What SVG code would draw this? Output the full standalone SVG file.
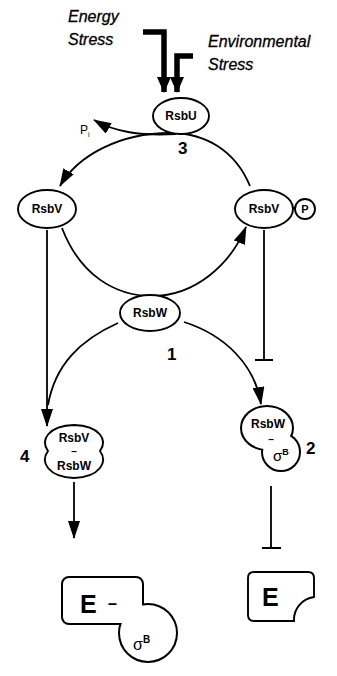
<svg xmlns="http://www.w3.org/2000/svg" width="337" height="676" viewBox="0 0 337 676">
  <style>
    .lbl { font-family: "Liberation Sans", Arial, sans-serif; font-weight: bold; fill: #000; }
    .it { font-family: "Liberation Sans", Arial, sans-serif; font-style: italic; font-size: 16px; fill: #000; stroke: #000; stroke-width: 0.3; }
    .num { font-family: "Liberation Sans", Arial, sans-serif; font-weight: bold; font-size: 17px; fill: #000; }
    .node { fill: #fff; stroke: #000; stroke-width: 1.9; }
    .edge { fill: none; stroke: #000; stroke-width: 1.8; }
    .halo { stroke: #000; stroke-width: 4; fill: #fff; }
    .cover { fill: #fff; stroke: none; }
  </style>
  <defs>
    <marker id="head" viewBox="0 0 18 12" refX="17" refY="6" markerWidth="18" markerHeight="12" markerUnits="userSpaceOnUse" orient="auto">
      <path d="M0,0 L18,6 L0,12 Z" fill="#000"/>
    </marker>
    <marker id="bighead" viewBox="0 0 16 14" refX="15" refY="7" markerWidth="16" markerHeight="14" markerUnits="userSpaceOnUse" orient="auto">
      <path d="M0,0 L16,7 L0,14 Z" fill="#000"/>
    </marker>
  </defs>

  <!-- stress inputs -->
  <g id="stress-labels">
    <text class="it" x="68" y="22">Energy</text>
    <text class="it" x="68" y="45">Stress</text>
    <text class="it" x="208" y="47">Environmental</text>
    <text class="it" x="208" y="70">Stress</text>
  </g>
  <g id="stress-arrows" fill="none" stroke="#000" stroke-width="5.5">
    <path d="M143,32 H164 V92" marker-end="url(#bighead)"/>
    <path d="M193,56 H177 V92" marker-end="url(#bighead)"/>
  </g>

  <!-- connectors -->
  <g id="connectors">
    <path class="edge" d="M250,186 C235,150 205,133 170,133 C120,133 78,155 60,186" marker-end="url(#head)"/>
    <path class="edge" d="M176,134 C140,136 115,132 94,120" marker-end="url(#head)"/>
    <path class="edge" d="M62,228 C80,275 115,296 152,296 C195,296 230,265 246,227" marker-end="url(#head)"/>
    <path class="edge" d="M47,230 V426" marker-end="url(#head)"/>
    <path class="edge" d="M118,323 C80,340 55,365 48,405"/>
    <path class="edge" d="M264,230 V360 M255,360 H273"/>
    <path class="edge" d="M184,322 C225,335 255,365 261,404" marker-end="url(#head)"/>
    <path class="edge" d="M271,486 V548 M262,548 H281"/>
    <path class="edge" d="M74,482 V538" marker-end="url(#head)"/>
    <path class="edge" d="M293,208 H295"/>
  </g>

  <g id="rsbU">
    <ellipse class="node" cx="181" cy="116" rx="28" ry="18"/>
    <text class="lbl" font-size="12" x="181" y="120" text-anchor="middle">RsbU</text>
  </g>
  <g id="pi">
    <text font-family="Liberation Sans, Arial, sans-serif" font-size="12" x="80" y="134">P<tspan font-size="7" dy="3">i</tspan></text>
  </g>
  <g id="rsbV">
    <ellipse class="node" cx="47" cy="209" rx="29" ry="19"/>
    <text class="lbl" font-size="12" x="47" y="213" text-anchor="middle">RsbV</text>
  </g>
  <g id="rsbV-P">
    <ellipse class="node" cx="264" cy="209" rx="29" ry="19"/>
    <text class="lbl" font-size="12" x="264" y="213" text-anchor="middle">RsbV</text>
    <circle class="node" cx="305" cy="209" r="10"/>
    <text class="lbl" font-size="11" x="305" y="213" text-anchor="middle">P</text>
  </g>
  <g id="rsbW">
    <ellipse class="node" cx="150" cy="313" rx="30" ry="18"/>
    <text class="lbl" font-size="12" x="150" y="317" text-anchor="middle">RsbW</text>
  </g>

  <g id="rsbV-rsbW">
    <path class="node" d="M48,451 C40,440 48,426 74,425 C100,426 108,440 100,451 C108,462 100,477 74,478 C48,477 40,462 48,451 Z"/>
    <text class="lbl" font-size="12" x="74" y="442" text-anchor="middle">RsbV</text>
    <text class="lbl" font-size="10" x="74" y="455" text-anchor="middle">–</text>
    <text class="lbl" font-size="12" x="74" y="470" text-anchor="middle">RsbW</text>
  </g>

  <g id="rsbW-sigB">
    <ellipse class="halo" cx="267" cy="428" rx="25" ry="21"/>
    <circle class="halo" cx="281" cy="452" r="18"/>
    <ellipse class="cover" cx="267" cy="428" rx="25" ry="21"/>
    <circle class="cover" cx="281" cy="452" r="18"/>
    <text class="lbl" font-size="12" x="268" y="428" text-anchor="middle">RsbW</text>
    <text class="lbl" font-size="10" x="271" y="443" text-anchor="middle">–</text>
    <text font-family="Liberation Sans, Arial, sans-serif" font-size="15" x="273" y="461">σ<tspan font-size="9" dy="-6" font-weight="bold">B</tspan></text>
  </g>

  <g id="E">
    <path class="node" d="M254,572 H308 Q314,572 314,578 V597 A23,23 0 0 0 294,621 H254 Q248,621 248,615 V578 Q248,572 254,572 Z"/>
    <text class="lbl" font-size="25" x="262" y="606">E</text>
  </g>

  <g id="E-sigB">
    <rect class="halo" x="63" y="578" width="79" height="45" rx="6"/>
    <circle class="halo" cx="148" cy="633" r="28"/>
    <rect class="cover" x="63" y="578" width="79" height="45" rx="6"/>
    <circle class="cover" cx="148" cy="633" r="28"/>
    <text class="lbl" font-size="25" x="80" y="613">E</text>
    <text class="lbl" font-size="16" x="108" y="609">–</text>
    <text font-family="Liberation Sans, Arial, sans-serif" font-size="16" x="133" y="650">σ<tspan font-size="10" dy="-7" font-weight="bold">B</tspan></text>
  </g>

  <g id="step-numbers">
    <text class="num" x="178" y="154">3</text>
    <text class="num" x="167" y="360">1</text>
    <text class="num" x="20" y="462">4</text>
    <text class="num" x="306" y="454">2</text>
  </g>
</svg>
